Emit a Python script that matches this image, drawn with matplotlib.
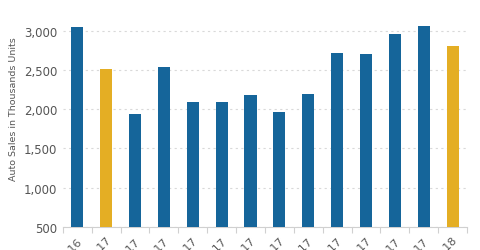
import matplotlib
matplotlib.use("Agg")
from matplotlib import pyplot as plt
import numpy as np

months = ["Dec-16", "Jan-17", "Feb-17", "Mar-17", "Apr-17", "May-17", "Jun-17",
          "Jul-17", "Aug-17", "Sep-17", "Oct-17", "Nov-17", "Dec-17", "Jan-18"]
sales = [3050, 2515, 1940, 2535, 2085, 2090, 2175, 1970, 2190, 2710, 2705, 2955, 3062, 2810]

blue = "#15659a"
gold = "#e4ae24"
colors = [gold if m.startswith("Jan") else blue for m in months]

fig = plt.figure(figsize=(4.8, 2.51), dpi=100)
ax = fig.add_axes([0.131, 0.092, 0.842, 0.86])

x = np.arange(len(months))
ax.bar(x, sales, width=0.42, color=colors, zorder=3)

ax.set_ylim(500, 3250)
ax.set_xlim(-0.5, len(months) - 0.5)
ax.set_yticks([500, 1000, 1500, 2000, 2500, 3000])
ax.set_yticklabels(["500", "1,000", "1,500", "2,000", "2,500", "3,000"])
ax.yaxis.grid(True, linestyle=(0, (2, 3)), color="#d9d9d9", linewidth=0.8, zorder=0)

# category boundary ticks on the x axis
ax.set_xticks(np.arange(len(months) + 1) - 0.5, minor=True)
ax.tick_params(axis="x", which="minor", length=4, color="#d0d0d0", width=0.8)
ax.set_xticks(x)
ax.set_xticklabels(months, rotation=45, ha="right", rotation_mode="anchor",
                   fontsize=8, color="#555555")
ax.tick_params(axis="x", which="major", length=0, pad=6)
ax.tick_params(axis="y", length=0, labelsize=8.5, labelcolor="#555555", pad=4)

for side in ["top", "right", "left"]:
    ax.spines[side].set_visible(False)
ax.spines["bottom"].set_color("#d0d0d0")

ax.set_ylabel("Auto Sales in Thousands Units", fontsize=6.8, color="#555555")
ax.yaxis.set_label_coords(-0.11, 0.55)

plt.savefig("out.png", dpi=100)
